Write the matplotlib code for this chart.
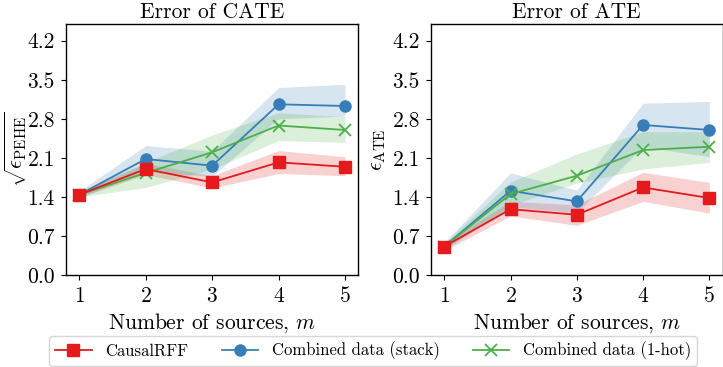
import matplotlib
matplotlib.use("Agg")
import matplotlib.pyplot as plt
import numpy as np

plt.rcParams['font.family'] = 'serif'
plt.rcParams['font.serif'] = ['cmr10', 'DejaVu Serif']
plt.rcParams['mathtext.fontset'] = 'cm'
plt.rcParams['axes.formatter.use_mathtext'] = True

m = [1, 2, 3, 4, 5]
yticks = [0.0, 0.7, 1.4, 2.1, 2.8, 3.5, 4.2]

# CATE panel
cate_rff = [1.44, 1.90, 1.66, 2.02, 1.94]
cate_rff_lo = [1.39, 1.80, 1.56, 1.82, 1.78]
cate_rff_hi = [1.49, 2.00, 1.78, 2.23, 2.12]
cate_stack = [1.44, 2.08, 1.96, 3.06, 3.03]
cate_stack_lo = [1.39, 1.85, 1.77, 2.80, 2.85]
cate_stack_hi = [1.50, 2.32, 2.22, 3.36, 3.42]
cate_hot = [1.44, 1.83, 2.20, 2.68, 2.60]
cate_hot_lo = [1.40, 1.57, 1.90, 2.41, 2.38]
cate_hot_hi = [1.48, 2.02, 2.51, 2.91, 2.84]

# ATE panel
ate_rff = [0.51, 1.18, 1.08, 1.57, 1.38]
ate_rff_lo = [0.44, 1.06, 0.89, 1.32, 1.11]
ate_rff_hi = [0.58, 1.32, 1.26, 1.84, 1.66]
ate_stack = [0.51, 1.51, 1.32, 2.69, 2.60]
ate_stack_lo = [0.45, 1.22, 1.12, 2.30, 2.12]
ate_stack_hi = [0.58, 1.83, 1.52, 3.08, 3.11]
ate_hot = [0.51, 1.45, 1.78, 2.24, 2.30]
ate_hot_lo = [0.46, 1.25, 1.65, 1.90, 2.02]
ate_hot_hi = [0.57, 1.67, 2.17, 2.57, 2.57]

labels = ['CausalRFF', 'Combined data (stack)', 'Combined data (1-hot)']
colors = ['#e41a1c', '#377eb8', '#4daf4a']
markers = ['s', 'o', 'x']
msizes = [8, 8, 8]
zorders = [5, 3, 4]

W, H = 723, 367
fig = plt.figure(figsize=(W/100, H/100), dpi=100)
ax1 = fig.add_axes([66/W, (H-275)/H, (358.3-66)/W, (275-24)/H])
ax2 = fig.add_axes([431/W, (H-275)/H, (722.6-431)/W, (275-24)/H])

panels = [
    (ax1, 'Error of CATE', r'$\sqrt{\epsilon_{\mathrm{PEHE}}}$', -0.128,
     [(cate_rff, cate_rff_lo, cate_rff_hi), (cate_stack, cate_stack_lo, cate_stack_hi),
      (cate_hot, cate_hot_lo, cate_hot_hi)]),
    (ax2, 'Error of ATE', r'$\epsilon_{\mathrm{ATE}}$', -0.147,
     [(ate_rff, ate_rff_lo, ate_rff_hi), (ate_stack, ate_stack_lo, ate_stack_hi),
      (ate_hot, ate_hot_lo, ate_hot_hi)]),
]

handles = []
for ax, title, ylab, lx, series in panels:
    hs = []
    for (y, lo, hi), c, mk, ms, lab, z in zip(series, colors, markers, msizes, labels, zorders):
        ax.fill_between(m, lo, hi, color=c, alpha=0.2, linewidth=0, zorder=1)
        h, = ax.plot(m, y, color=c, marker=mk, markersize=ms, linewidth=1.3,
                     markeredgewidth=1.3 if mk == 'x' else 1.0, label=lab, zorder=z)
        hs.append(h)
    handles = hs
    ax.set_xlim(0.8, 5.2)
    ax.set_ylim(0, 4.5)
    ax.set_xticks(m)
    ax.set_yticks(yticks)
    ax.set_yticklabels([f'{v:.1f}' for v in yticks])
    ax.tick_params(labelsize=15.5, pad=4.5)
    ax.set_title(title, fontsize=15.5, pad=4)
    ax.set_ylabel(ylab, fontsize=15.5)
    ax.yaxis.set_label_coords(lx, 0.5)
    ax.set_xlabel(r'Number of sources, $m$', fontsize=15.5, labelpad=4)
    for s in ax.spines.values():
        s.set_linewidth(1.0)

fig.legend(handles, labels, loc='center', bbox_to_anchor=(373/W, (H-351)/H),
           ncol=3, fontsize=12, frameon=True, fancybox=True, handlelength=2.2,
           columnspacing=2.0, borderpad=0.35)

fig.savefig('out.png', dpi=100)
